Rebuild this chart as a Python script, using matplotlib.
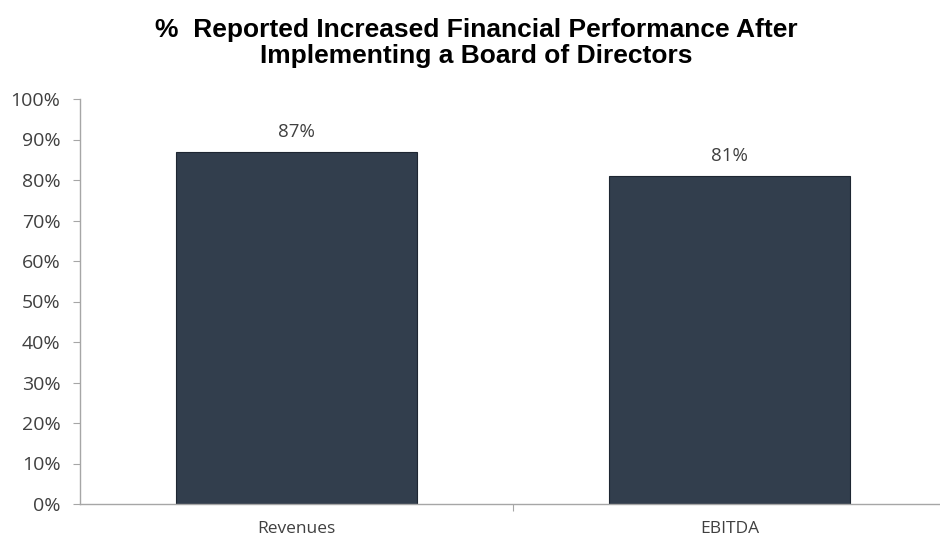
import matplotlib
matplotlib.use("Agg")
import matplotlib.pyplot as plt
from matplotlib.ticker import PercentFormatter

categories = ["Revenues", "EBITDA"]
values = [87, 81]
y_ticks = list(range(0, 101, 10))

BAR = "#323E4D"
EDGE = "#1E2632"
AXIS = "#A6A6A6"
TEXT = "#404040"

fig = plt.figure(figsize=(9.40, 5.44), dpi=100, facecolor="white")
ax = fig.add_axes([80 / 940, 40 / 544, 866 / 940, 405 / 544])

x = range(len(categories))
ax.bar(x, values, width=0.555, color=BAR, edgecolor=EDGE, linewidth=0.8, zorder=2)
for xi, v in zip(x, values):
    ax.text(xi, v + 2.6, f"{v}%", ha="center", va="bottom",
            fontfamily="Open Sans", fontsize=13.5, color=TEXT)

ax.set_xlim(-0.5, len(categories) - 0.5)
ax.set_ylim(0, 100)
ax.set_yticks(y_ticks)
ax.yaxis.set_major_formatter(PercentFormatter(decimals=0))

# category labels sit between boundary ticks
ax.set_xticks([i + 0.5 for i in range(len(categories) - 1)])
ax.set_xticklabels([])
ax.set_xticks(list(x), minor=True)
ax.set_xticklabels(categories, minor=True)
ax.tick_params(axis="x", which="minor", length=0, pad=12)
ax.tick_params(axis="x", which="major", length=5, color=AXIS, direction="out")
ax.tick_params(axis="y", length=5, color=AXIS, pad=9)

for lab in ax.get_yticklabels():
    lab.set_fontfamily("Open Sans")
    lab.set_fontsize(14)
    lab.set_color(TEXT)
for lab in ax.get_xticklabels(minor=True):
    lab.set_fontfamily("Open Sans")
    lab.set_fontsize(12.5)
    lab.set_color(TEXT)

for s in ["top", "right"]:
    ax.spines[s].set_visible(False)
for s in ["left", "bottom"]:
    ax.spines[s].set_color(AXIS)
    ax.spines[s].set_linewidth(1)

fig.text(0.507, 0.921, "%  Reported Increased Financial Performance After\nImplementing a Board of Directors",
         ha="center", va="center", fontfamily=["Liberation Sans Narrow", "Liberation Sans"],
         fontweight="bold", fontsize=19, color="black", linespacing=1.15)

fig.savefig("out.png", dpi=100, facecolor="white")
